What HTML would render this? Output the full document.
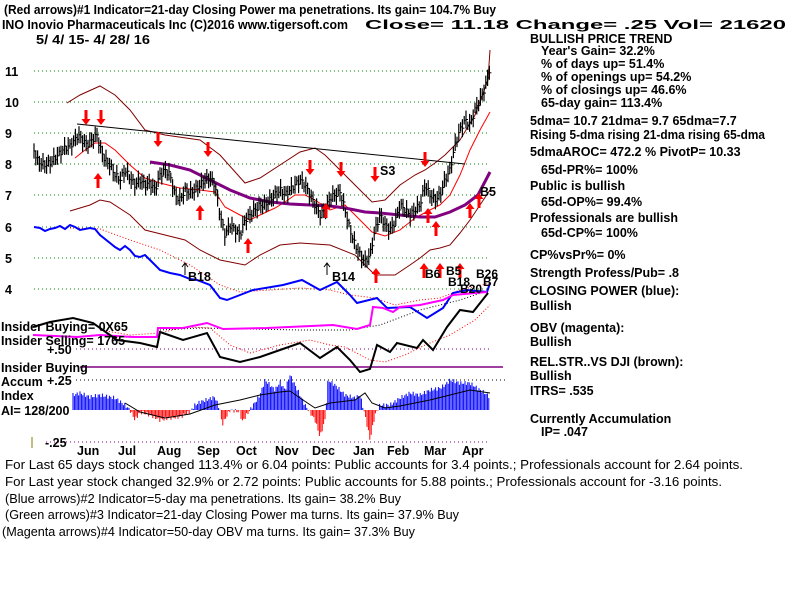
<!DOCTYPE html>
<html><head><meta charset="utf-8"><style>
html,body{margin:0;padding:0;background:#fff;}
svg{display:block;}
text{font-family:"Liberation Sans",sans-serif;}
.b{font-weight:bold;font-size:12.5px;}
.t{font-size:12.5px;}
</style></head><body>
<svg id="s" width="800" height="600" viewBox="0 0 800 600" xmlns="http://www.w3.org/2000/svg">
<rect width="800" height="600" fill="#fff"/>
<text x="4" y="14" class="b" font-size="13" textLength="492" lengthAdjust="spacingAndGlyphs">(Red arrows)#1 Indicator=21-day Closing Power ma penetrations. Its gain= 104.7% Buy</text>
<text x="2" y="29" class="b" textLength="346" lengthAdjust="spacingAndGlyphs">INO   Inovio Pharmaceuticals Inc  (C)2016 www.tigersoft.com</text>
<text x="365" y="29" class="b" font-size="14" textLength="421" lengthAdjust="spacingAndGlyphs">Close=  11.18  Change= .25 Vol= 21620</text>
<text x="36" y="44" class="b" textLength="114" lengthAdjust="spacingAndGlyphs">5/ 4/ 15- 4/ 28/ 16</text>
<g class="b" font-size="14">
<text x="5" y="76">11</text><text x="5" y="107">10</text><text x="5" y="138">9</text><text x="5" y="169">8</text>
<text x="5" y="200">7</text><text x="5" y="232">6</text><text x="5" y="263">5</text><text x="5" y="294">4</text>
</g>
<g stroke="#008000" stroke-dasharray="1,3" stroke-width="1">
<line x1="34" y1="71" x2="490" y2="71"/><line x1="34" y1="102" x2="490" y2="102"/><line x1="34" y1="133" x2="490" y2="133"/><line x1="34" y1="164" x2="490" y2="164"/>
<line x1="34" y1="195" x2="490" y2="195"/><line x1="34" y1="227" x2="490" y2="227"/><line x1="34" y1="258" x2="490" y2="258"/><line x1="34" y1="289" x2="490" y2="289"/>
</g>
<g stroke="#800080" stroke-dasharray="1,3">
<line x1="76" y1="349" x2="490" y2="349"/><line x1="76" y1="380" x2="505" y2="380" stroke="#000"/><line x1="46" y1="442" x2="490" y2="442"/>
</g>
<line x1="80" y1="367" x2="503" y2="367" stroke="#800080" stroke-width="1.5"/>
<line x1="32" y1="437" x2="32" y2="448" stroke="#808000"/>
<g fill="none">
<polyline stroke="#800000" points="67,103 80,95 100,86 115,95 130,110 145,130 165,135 200,140 220,155 245,183 260,178 280,165 300,152 315,148 325,155 340,170 360,190 372,202 385,200 400,185 415,175 425,170 435,163 445,155 460,140 475,115 488,80 490,50"/>
<polyline stroke="#800000" points="70,211 90,205 100,200 110,202 130,215 145,230 165,235 185,240 200,250 220,260 245,265 260,255 280,245 300,243 330,245 355,255 375,275 395,275 410,265 420,258 430,250 440,248 450,245 460,233 470,220 480,205 490,190"/>
<polyline stroke="#f00" points="75,158 85,150 95,143 105,143 115,150 130,165 145,178 160,183 180,188 200,190 215,192 225,207 240,215 250,220 260,215 275,208 285,202 295,195 305,195 315,200 330,210 345,205 360,220 372,232 385,236 400,230 415,218 430,210 440,205 450,195 460,175 470,150 480,130 490,112"/>
<line x1="77" y1="124" x2="465" y2="164" stroke="#000"/>
<polyline stroke="#800080" stroke-width="3" points="150,162 170,165 190,170 210,180 230,190 250,198 270,202 290,204 310,205 330,206 345,208 365,212 380,213 400,215 420,217 435,217 450,212 465,205 478,195 490,172"/>
<g id="bars" stroke="#000"></g>
<polyline stroke="#f00" stroke-dasharray="1,2" points="70,228 100,229 130,240 160,250 190,265 220,285 240,292 270,290 300,288 330,290 350,295 375,298 395,305 420,300 440,298 460,290 490,283"/>
<polyline stroke="#f00" stroke-dasharray="1,2" points="100,330 130,335 160,333 185,327 210,328 230,345 250,353 280,345 310,340 330,345 345,347 370,360 385,362 405,355 425,345 450,335 475,320 490,305"/>
<polyline stroke="#000" stroke-dasharray="1,2" points="160,330 200,328 300,330 350,330 380,325 420,310 460,300 490,290"/>
<polyline stroke="#0000ff" stroke-width="2" points="34,227 40,228 45,231 50,229 55,228 60,226 65,229 70,225 75,227 80,230 90,228 95,229 100,235 110,243 115,247 120,250 125,246 130,250 135,256 140,257 145,255 150,260 160,270 170,273 180,275 190,279 197,280 210,285 220,298 227,300 240,295 253,290 283,285 302,280 320,290 337,282 350,295 357,303 377,298 387,308 410,307 427,318 443,308 453,293 467,290 487,292 490,283"/>
<polyline stroke="#ff00ff" stroke-width="2" points="33,335 77,337 100,335 133,337 157,337 158,328 183,328 207,323 223,329 267,328 333,325 357,329 370,325 373,307 383,308 393,312 400,307 420,305 443,300 453,295 487,292"/>
<polyline stroke="#000" stroke-width="2" points="33,327 50,322 73,318 93,323 117,340 140,343 157,347 160,332 183,340 207,333 220,357 240,362 260,357 280,350 300,343 320,358 337,347 350,360 360,372 370,369 377,345 390,352 397,343 417,348 423,340 433,350 447,327 460,310 473,312 488,293"/>
</g>
<g fill="#f00" id="arrows"></g>
<g class="b" font-size="13">
<text x="188" y="281">B18</text><text x="332" y="281">B14</text><text x="380" y="175">S3</text><text x="480" y="196">B5</text>
<text x="425" y="278" font-size="12">B6</text><text x="446" y="275" font-size="12">B5</text><text x="476" y="278" font-size="12">B26</text><text x="448" y="286" font-size="12">B18</text><text x="483" y="286" font-size="12">B7</text><text x="460" y="293" font-size="12">B20</text>
</g>
<g stroke="#000" fill="none"><path d="M185,275 v-12 m-3,4 l3,-4 l3,4"/><path d="M327,275 v-12 m-3,4 l3,-4 l3,4"/></g>
<g class="b" font-size="12.5">
<text x="1" y="331">Insider Buying= 0X65</text>
<text x="1" y="345">Insider Selling= 1765</text>
<text x="47" y="354">+.50</text>
<text x="1" y="372">Insider Buying</text>
<text x="1" y="386">Accum</text><text x="47" y="385">+.25</text>
<text x="1" y="400">Index</text>
<text x="1" y="415">AI= 128/200</text>
<text x="45" y="447">-.25</text>
</g>
<g id="hist"></g>
<polyline fill="none" stroke="#000" points="125,403 140,412 165,418 190,414 215,405 240,400 260,395 280,392 290,391 300,398 315,408 330,403 355,400 365,393 372,403 385,408 400,406 430,400 450,395 470,390 490,393"/>
<g class="b" font-size="12.5">
<text x="77" y="455">Jun</text><text x="118" y="455">Jul</text><text x="157" y="455">Aug</text><text x="197" y="455">Sep</text><text x="236" y="455">Oct</text><text x="275" y="455">Nov</text><text x="312" y="455">Dec</text><text x="353" y="455">Jan</text><text x="387" y="455">Feb</text><text x="424" y="455">Mar</text><text x="462" y="455">Apr</text>
</g>
<g class="b">
<text x="530" y="43">BULLISH PRICE TREND</text>
<text x="541" y="55">Year's Gain= 32.2%</text>
<text x="541" y="68">% of days up= 51.4%</text>
<text x="541" y="81">% of openings up= 54.2%</text>
<text x="541" y="94">% of closings up= 46.6%</text>
<text x="541" y="107">65-day gain= 113.4%</text>
<text x="530" y="125">5dma= 10.7 21dma= 9.7 65dma=7.7</text>
<text x="530" y="139" textLength="235" lengthAdjust="spacingAndGlyphs">Rising 5-dma rising 21-dma rising 65-dma</text>
<text x="530" y="156">5dmaAROC= 472.2 %  PivotP= 10.33</text>
<text x="541" y="174">65d-PR%= 100%</text>
<text x="530" y="190">Public is bullish</text>
<text x="541" y="206">65d-OP%= 99.4%</text>
<text x="530" y="222">Professionals are bullish</text>
<text x="541" y="237">65d-CP%= 100%</text>
<text x="530" y="259">CP%vsPr%=  0%</text>
<text x="530" y="277">Strength Profess/Pub= .8</text>
<text x="530" y="295">CLOSING POWER (blue):</text>
<text x="530" y="310">Bullish</text>
<text x="530" y="332">OBV (magenta):</text>
<text x="530" y="346">Bullish</text>
<text x="530" y="366">REL.STR..VS DJI (brown):</text>
<text x="530" y="380">Bullish</text>
<text x="530" y="395">ITRS= .535</text>
<text x="530" y="423">Currently Accumulation</text>
<text x="541" y="436">IP=  .047</text>
</g>
<g class="t">
<text x="5" y="469" textLength="738" lengthAdjust="spacingAndGlyphs">For Last 65 days stock changed  113.4% or  6.04 points:  Public accounts for  3.4 points.;  Professionals account for  2.64 points.</text>
<text x="5" y="486" textLength="717" lengthAdjust="spacingAndGlyphs">For Last year stock changed  32.9% or  2.72 points:  Public accounts for  5.88 points.;  Professionals account for -3.16 points.</text>
<text x="5" y="503" textLength="396" lengthAdjust="spacingAndGlyphs">(Blue arrows)#2 Indicator=5-day ma penetrations. Its gain= 38.2% Buy</text>
<text x="5" y="519" textLength="454" lengthAdjust="spacingAndGlyphs">(Green arrows)#3 Indicator=21-day Closing Power ma turns. Its gain= 37.9% Buy</text>
<text x="2" y="536" textLength="413" lengthAdjust="spacingAndGlyphs">(Magenta arrows)#4 Indicator=50-day OBV ma turns. Its gain= 37.3% Buy</text>
</g>
</svg>
<script>
var NS="http://www.w3.org/2000/svg";
function mk(g,tag,at){var e=document.createElementNS(NS,tag);for(var k in at)e.setAttribute(k,at[k]);g.appendChild(e);return e;}
function interp(k,x){for(var i=0;i<k.length-1;i++){if(x>=k[i][0]&&x<=k[i+1][0]){var t=(x-k[i][0])/(k[i+1][0]-k[i][0]);return k[i][1]+t*(k[i+1][1]-k[i][1]);}}return k[k.length-1][1];}
var pk=[[34,150],[37,160],[40,163],[45,165],[50,163],[55,158],[60,153],[65,148],[70,146],[75,140],[78,135],[82,140],[87,145],[92,140],[97,135],[100,148],[105,160],[110,165],[115,175],[120,180],[125,170],[130,178],[135,185],[140,180],[145,185],[150,183],[155,190],[160,175],[165,170],[170,175],[175,195],[180,200],[185,190],[190,193],[195,190],[200,185],[205,180],[210,178],[215,185],[220,215],[225,235],[230,225],[235,230],[240,235],[245,220],[250,215],[255,210],[260,205],[265,205],[270,200],[275,195],[280,190],[285,195],[290,190],[295,185],[300,180],[305,185],[310,195],[315,205],[320,215],[325,210],[330,198],[335,195],[340,192],[345,210],[350,230],[355,245],[360,255],[365,262],[370,255],[375,230],[380,215],[385,225],[390,230],[395,222],[400,205],[405,210],[410,215],[415,210],[420,205],[425,185],[430,195],[435,200],[440,195],[445,180],[450,170],[455,145],[460,130],[465,120],[470,125],[475,110],[480,100],[485,88],[490,68]];
var b=document.getElementById("bars");
for(var x=34;x<=490;x+=1.8){var y=interp(pk,x)+Math.sin(x*2.3)*3;var r=4+Math.abs(Math.sin(x*0.9))*5;
mk(b,"line",{x1:x,x2:x,y1:y-r,y2:y+r,"stroke-width":1.2});mk(b,"line",{x1:x,x2:x+2,y1:y,y2:y});}
var k=[[73,395],[80,393],[90,397],[100,395],[115,398],[125,405],[130,410],[135,420],[140,412],[150,415],[160,420],[170,418],[180,417],[190,412],[195,405],[200,402],[215,397],[220,410],[222,425],[230,410],[240,412],[242,422],[250,410],[260,395],[265,380],[270,385],[275,390],[280,382],[285,390],[290,375],[295,385],[300,395],[305,405],[315,420],[320,437],[325,420],[328,380],[335,385],[340,390],[345,395],[355,398],[360,395],[365,415],[370,440],[375,415],[380,405],[390,405],[400,398],[410,393],[420,395],[430,390],[440,388],[445,385],[450,380],[460,383],[470,383],[480,390],[485,393],[490,397]];
var h=document.getElementById("hist");
for(var x=73;x<=490;x+=1.4){var y=interp(k,x)+Math.sin(x*1.7)*2;mk(h,"line",{x1:x,x2:x,y1:410,y2:y,stroke:y<410?"#0000ff":"#ff0000","stroke-width":1});}
var a=document.getElementById("arrows");
var up=[[98,180],[200,212],[248,245],[326,210],[436,228],[376,275],[428,215],[470,210],[479,200],[460,270],[440,270],[424,270]];
var dn=[[86,118],[101,118],[158,140],[208,150],[310,168],[341,170],[375,175],[425,160]];
function arr(x,y,d){mk(a,"path",{d:d>0?"M"+(x-1.5)+","+y+" h3 v-9 h3 l-4.5,-6 l-4.5,6 h3 z":"M"+(x-1.5)+","+y+" h3 v9 h3 l-4.5,6 l-4.5,-6 h3 z"});}
up.forEach(function(p){arr(p[0],p[1]+8,1);});
dn.forEach(function(p){arr(p[0],p[1]-8,-1);});
</script>
</body></html>
